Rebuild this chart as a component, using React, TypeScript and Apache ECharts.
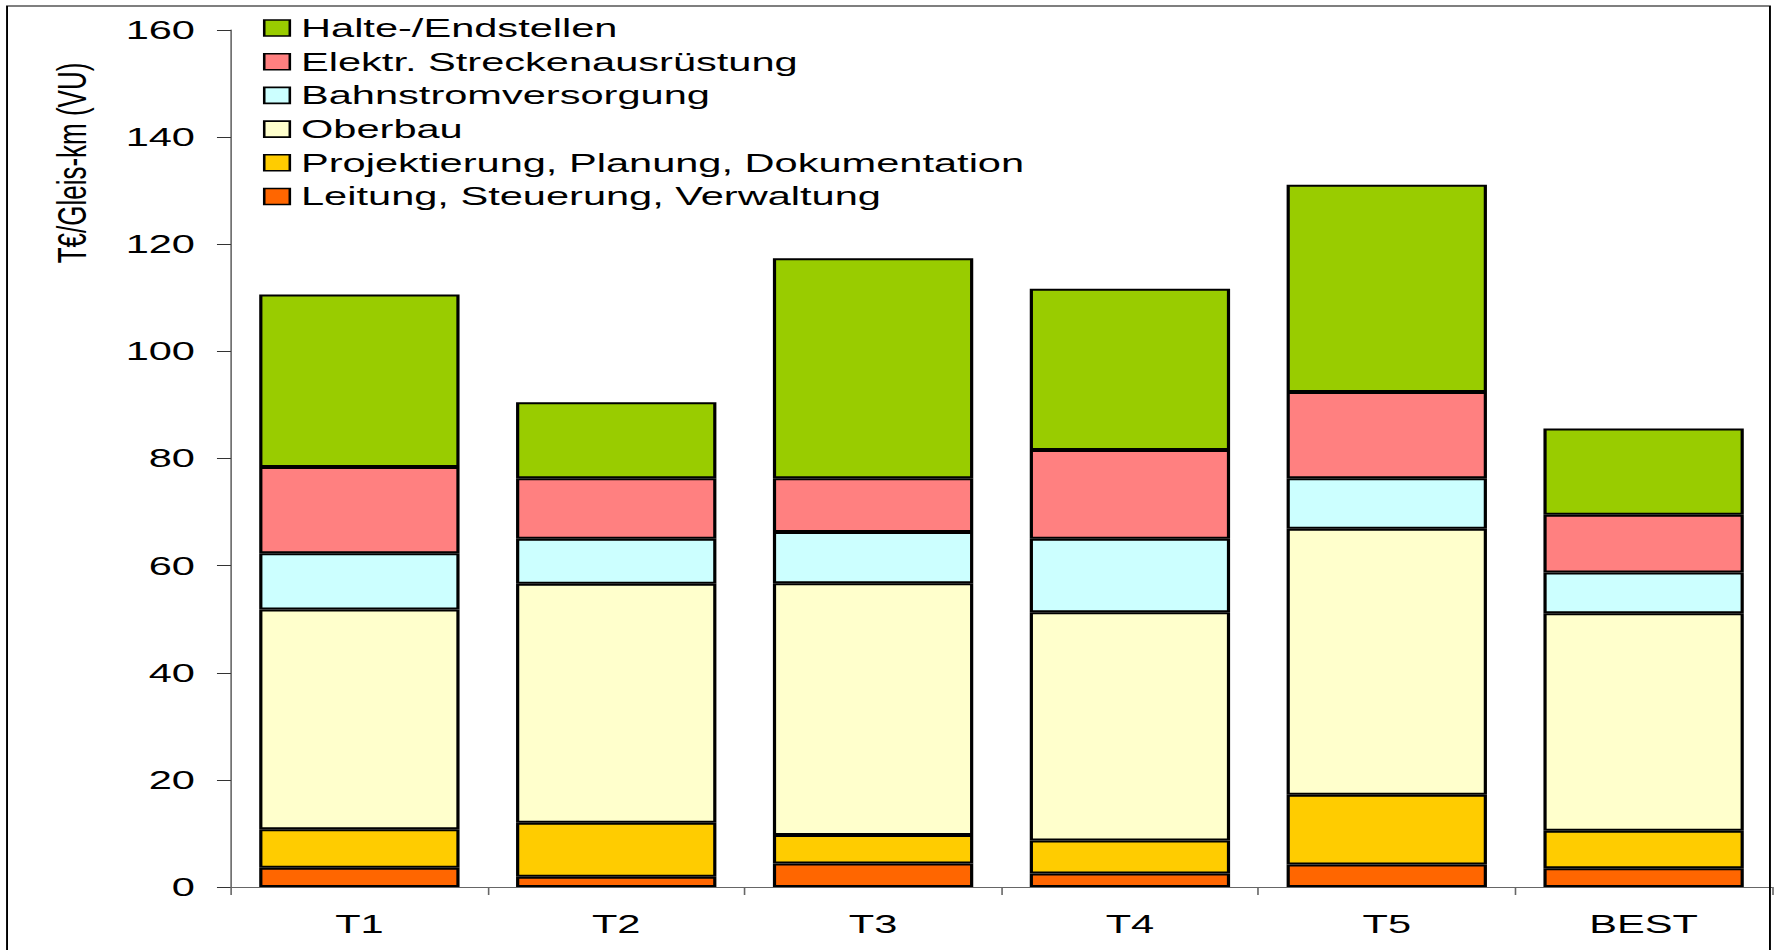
import React, { useEffect, useRef } from "react";
import * as echarts from "echarts";

const categories = ["T1", "T2", "T3", "T4", "T5", "BEST"];
const leitung = [3.6, 1.9, 4.4, 2.5, 4.2, 3.5];
const projektierung = [7.2, 10.1, 5.3, 6.2, 13.0, 7.0];
const oberbau = [41.0, 44.6, 47.0, 42.6, 49.7, 40.6];
const bahnstrom = [10.5, 8.4, 9.6, 13.7, 9.4, 7.6];
const elektr = [16.1, 11.3, 10.0, 16.6, 16.1, 10.8];
const halte = [32.2, 14.2, 41.1, 30.1, 38.7, 16.1];

const seriesNames = [
  "Leitung, Steuerung, Verwaltung",
  "Projektierung, Planung, Dokumentation",
  "Oberbau",
  "Bahnstromversorgung",
  "Elektr. Streckenausrüstung",
  "Halte-/Endstellen",
];
const seriesColors = ["#FF6600", "#FFCC00", "#FFFFCC", "#CCFFFF", "#FF8080", "#99CC00"];
const seriesData = [leitung, projektierung, oberbau, bahnstrom, elektr, halte];
const yTicks = { min: 0, max: 160, interval: 20 };
const yName = "T€/Gleis-km (VU)";

const W = 1111;
const H = 950;
const S = 1777 / W;
const FONT = "'Liberation Sans', Arial, sans-serif";

export default function App() {
  const ref = useRef<HTMLDivElement>(null);
  useEffect(() => {
    const chart = echarts.init(ref.current!, null, { renderer: "svg" });
    const option: any = {
      animation: false,
      backgroundColor: "#ffffff",
      textStyle: { fontFamily: FONT, color: "#000" },
      grid: { left: 144.4, right: 3.1, top: 30, bottom: 63, containLabel: false },
      legend: {
        orient: "vertical",
        left: 164.4,
        top: 15,
        padding: 0,
        icon: "rect",
        itemWidth: 16,
        itemHeight: 16,
        itemGap: 7.7,
        selectedMode: false,
        data: seriesNames.slice().reverse(),
        textStyle: { fontSize: 26, lineHeight: 26, color: "#000", fontFamily: FONT, padding: [0, 0, 0, 2] },
        itemStyle: { borderColor: "#000", borderWidth: 1.6 },
      },
      xAxis: {
        type: "category",
        data: categories,
        boundaryGap: true,
        axisLine: { show: true, lineStyle: { color: "#666", width: 1 } },
        axisTick: { show: true, inside: false, length: 8, lineStyle: { color: "#666", width: 1 } },
        axisLabel: { fontSize: 26, color: "#000", margin: 24, fontFamily: FONT },
        splitLine: { show: false },
      },
      yAxis: {
        type: "value",
        min: yTicks.min,
        max: yTicks.max,
        interval: yTicks.interval,
        axisLine: { show: true, lineStyle: { color: "#666", width: 1 } },
        axisTick: { show: true, inside: false, length: 8.75, lineStyle: { color: "#333", width: 1 } },
        axisLabel: { fontSize: 26, color: "#000", margin: 22.5, fontFamily: FONT },
        splitLine: { show: false },
      },
      graphic: [
        {
          type: "rect",
          shape: { x: 4.4, y: 6, width: 1102.2, height: 1000 },
          style: { fill: "none", stroke: "#000", lineWidth: 1.2 },
          silent: true,
          z: 100,
        },
        {
          type: "text",
          x: 45,
          y: 163,
          rotation: Math.PI / 2,
          style: {
            text: yName,
            fontSize: 26,
            fontFamily: FONT,
            fill: "#000",
            align: "center",
            verticalAlign: "middle",
          },
          silent: true,
        },
      ],
      series: seriesNames.map((name, i) => ({
        name,
        type: "bar",
        stack: "total",
        barWidth: "78%",
        data: seriesData[i],
        itemStyle: { color: seriesColors[i], borderColor: "#000", borderWidth: 2 },
        emphasis: { disabled: true },
      })),
    };
    chart.setOption(option);
    return () => chart.dispose();
  }, []);
  return (
    <div
      style={{
        position: "absolute",
        left: 0,
        top: 0,
        width: W,
        height: H,
        transform: `scaleX(${S})`,
        transformOrigin: "0 0",
        overflow: "hidden",
      }}
    >
      <div ref={ref} style={{ width: W, height: H }} />
    </div>
  );
}
